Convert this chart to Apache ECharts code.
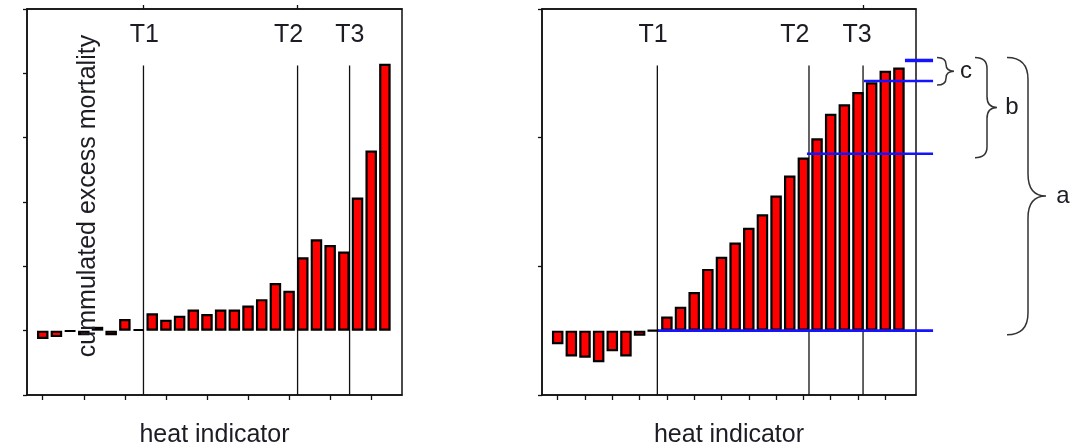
<!DOCTYPE html>
<html><head><meta charset="utf-8">
<script src="https://cdn.jsdelivr.net/npm/echarts@6/dist/echarts.min.js"></script>
<style>html,body{margin:0;padding:0;background:#fff}#c{width:1073px;height:444px}</style>
</head><body><div id="c"></div>
<script>
// ---- data ----
const heatClasses = [1,2,3,4,5,6,7,8,9,10,11,12,13,14,15,16,17,18,19,20,21,22,23,24,25,26];
const leftExcess = [-0.13,-0.10,-0.01,-0.07,0.06,-0.07,0.18,0.02,0.27,0.17,0.23,0.33,0.26,0.33,0.33,0.39,0.49,0.74,0.62,1.14,1.42,1.33,1.23,2.07,2.80,4.15];
const rightExcess = [-0.21,-0.40,-0.42,-0.49,-0.32,-0.40,-0.08,0.0,0.22,0.37,0.60,0.96,1.15,1.37,1.60,1.81,2.10,2.41,2.69,2.99,3.37,3.52,3.71,3.86,4.04,4.09];
const thresholdNames = ['T1','T2','T3'];
const leftThresholds = [8.36, 19.62, 23.42];
const leftThresholdLabelX = [8.42, 18.97, 23.44];
const rightThresholds = [8.30, 19.41, 23.37];
const rightThresholdLabelX = [7.98, 18.38, 22.93];
const referenceLevels = [0, 2.75, 3.88, 4.20];
const referenceStarts = [8.35, 19.26, 23.44, 26.44];
const referenceEnd = 28.5;
const braceLabels = ['c','b','a'];
const braceTop = [4.20, 4.20, 4.20];
const braceBottom = [3.88, 2.75, 0];
const yLabel = 'cummulated excess mortality';
const xLabel = 'heat indicator';

// ---- styling ----
const FONT = "'Liberation Sans', Arial, sans-serif";
const INK = '#1c1c24';
const X_MIN = -0.15, X_MAX = 27.25;
const T_LINE_TOP = 4.12, T_LABEL_Y = 4.6;
const BLUE = '#1414ff';

function xAxes(gridIndex, tickVals, topTicks) {
  return [{
    type: 'value', gridIndex, min: X_MIN, max: X_MAX, position: 'bottom',
    axisLine: {show: true, onZero: false, lineStyle: {color: '#111', width: 1.5}},
    axisTick: {show: true, length: 5, customValues: tickVals, lineStyle: {color: '#111', width: 1.3}},
    axisLabel: {show: false}, splitLine: {show: false},
    name: xLabel, nameLocation: 'middle', nameGap: 28,
    nameTextStyle: {fontFamily: FONT, fontSize: 25, color: INK}
  }, {
    type: 'value', gridIndex, min: X_MIN, max: X_MAX, position: 'top',
    axisLine: {show: true, onZero: false, lineStyle: {color: '#111', width: 1.5}},
    axisTick: {show: true, length: 4, customValues: topTicks, lineStyle: {color: '#111', width: 1.3}},
    axisLabel: {show: false}, splitLine: {show: false}
  }];
}
function yAxis(gridIndex, interval) {
  return {
    type: 'value', gridIndex, min: -1, max: 5, interval,
    axisLine: {show: true, onZero: false, lineStyle: {color: '#111', width: 1.5}},
    axisTick: {show: true, length: 4, lineStyle: {color: '#111', width: 1.3}},
    axisLabel: {show: false}, splitLine: {show: false}
  };
}
function barSeries(xi, yi, values) {
  return {
    type: 'bar', xAxisIndex: xi, yAxisIndex: yi, z: 3,
    data: heatClasses.map((c, i) => [c, values[i]]),
    barWidth: 11.5,
    itemStyle: {color: '#ff0000', borderColor: '#000', borderWidth: 2.2},
    emphasis: {disabled: true}, animation: false
  };
}
function thresholdSeries(xi, yi, xs, lxs) {
  return {
    type: 'custom', xAxisIndex: xi, yAxisIndex: yi, z: 2, clip: false, animation: false,
    data: xs.map((x, i) => [x, lxs[i]]),
    renderItem(params, api) {
      const x = api.value(0), lx = api.value(1);
      const p0 = api.coord([x, T_LINE_TOP]), p1 = api.coord([x, -1]);
      const pl = api.coord([lx, T_LABEL_Y]);
      return {type: 'group', children: [
        {type: 'line', shape: {x1: p0[0], y1: p0[1], x2: p1[0], y2: p1[1]}, style: {stroke: '#111', lineWidth: 1.3}},
        {type: 'text', x: pl[0], y: pl[1], style: {text: thresholdNames[params.dataIndex], fill: INK, font: '25px ' + FONT, align: 'center', verticalAlign: 'middle'}}
      ]};
    }
  };
}
const refSeries = {
  type: 'custom', xAxisIndex: 2, yAxisIndex: 1, z: 5, clip: false, animation: false,
  data: referenceLevels.map((lv, i) => [referenceStarts[i], referenceEnd, lv]),
  renderItem(params, api) {
    const a = api.coord([api.value(0), api.value(2)]), b = api.coord([api.value(1), api.value(2)]);
    const w = params.dataIndex === referenceLevels.length - 1 ? 3.5 : 2.6;
    return {type: 'line', shape: {x1: a[0], y1: a[1], x2: b[0], y2: b[1]}, style: {stroke: BLUE, lineWidth: w}};
  }
};
// brace geometry (pixel offsets) : [left, stem, tip, curve]
const braceGeom = [[937, 946, 954, 7], [975, 987, 997, 11], [1007, 1028, 1046, 22]];
const labelX = [966, 1012, 1063];
const braceSeries = {
  type: 'custom', xAxisIndex: 2, yAxisIndex: 1, z: 5, clip: false, animation: false,
  data: braceLabels.map((l, i) => [braceTop[i], braceBottom[i]]),
  renderItem(params, api) {
    const i = params.dataIndex;
    const yt = api.coord([0, api.value(0)])[1] - 3;
    const yb = api.coord([0, api.value(1)])[1] + 4;
    const ym = (yt + yb) / 2;
    const [x0, xs, xt, r] = braceGeom[i];
    const rr = Math.min(r, (yb - yt) / 4);
    const d = `M${x0},${yt} Q${xs},${yt} ${xs},${yt + rr} L${xs},${ym - rr} Q${xs},${ym} ${xt},${ym} Q${xs},${ym} ${xs},${ym + rr} L${xs},${yb - rr} Q${xs},${yb} ${x0},${yb}`;
    return {type: 'group', children: [
      {type: 'path', shape: {pathData: d}, style: {stroke: '#333', lineWidth: 1.5, fill: null}},
      {type: 'text', x: labelX[i], y: ym, style: {text: braceLabels[i], fill: INK, font: '24px ' + FONT, align: 'center', verticalAlign: 'middle'}}
    ]};
  }
};

const chart = echarts.init(document.getElementById('c'), null, {renderer: 'canvas'});
chart.setOption({
  backgroundColor: '#fff',
  animation: false,
  grid: [
    {left: 27, right: 671, top: 9, bottom: 49, show: true, borderColor: '#111', borderWidth: 1.5, containLabel: false, outerBoundsMode: 'none'},
    {left: 542, right: 157, top: 9, bottom: 49, show: true, borderColor: '#111', borderWidth: 1.5, containLabel: false, outerBoundsMode: 'none'}
  ],
  xAxis: [
    ...xAxes(0, [1,4,7,10,13,16,19,22,25], [leftThresholds[0], leftThresholds[1]]),
    ...xAxes(1, [1,3,5,7,9,11,13,15,17,19,21,23,25], [rightThresholds[2]])
  ],
  yAxis: [yAxis(0, 1), yAxis(1, 2)],
  series: [
    thresholdSeries(0, 0, leftThresholds, leftThresholdLabelX),
    barSeries(0, 0, leftExcess),
    thresholdSeries(2, 1, rightThresholds, rightThresholdLabelX),
    barSeries(2, 1, rightExcess),
    refSeries,
    braceSeries
  ],
  graphic: [{
    type: 'text', x: 88, y: 196, rotation: Math.PI / 2, z: 10,
    style: {text: yLabel, fill: INK, font: '25px ' + FONT, align: 'center', verticalAlign: 'middle'}
  }]
});
</script></body></html>
